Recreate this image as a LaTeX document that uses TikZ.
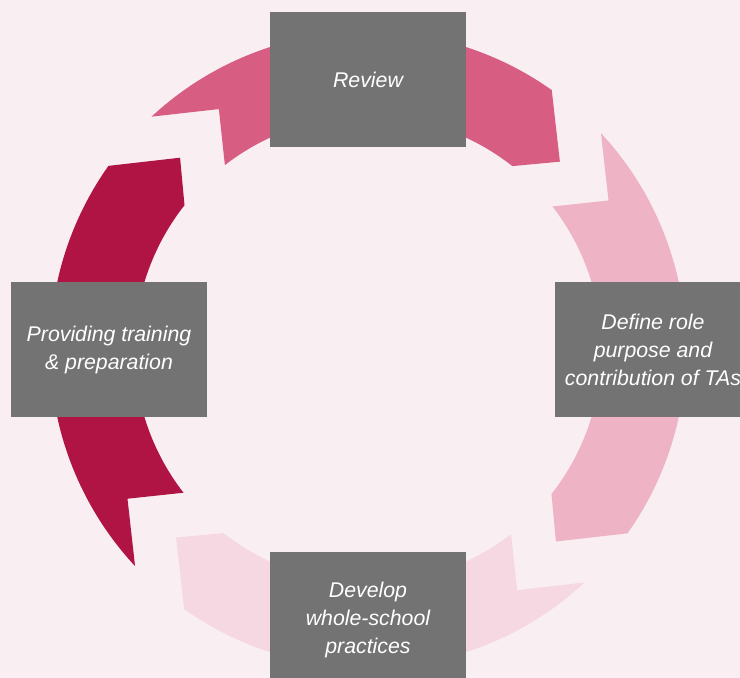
\documentclass[tikz,border=0pt]{standalone}
\usepackage{fontspec}
\setmainfont{Liberation Sans}
\definecolor{bgpink}{HTML}{F9EEF2}
\definecolor{boxgray}{HTML}{737373}
\definecolor{reviewarc}{HTML}{D85D82}
\definecolor{definearc}{HTML}{EEB4C6}
\definecolor{developarc}{HTML}{F6D8E2}
\definecolor{trainingarc}{HTML}{B01445}
\tikzset{
	stage/.style={
		fill=boxgray,
		text=white,
		minimum width=196pt,
		minimum height=135pt,
		inner sep=0pt,
		align=center,
		font=\fontsize{21.3}{28}\selectfont\itshape,
	},
	% one block of the ring, notched tail on the left, head on the right
	ringarrow/.pic={
		\path[pic actions] (132.9:318pt) -- (121.8:283pt) -- (127.8:233.5pt)
			arc[start angle=127.8, end angle=51.8, radius=233.5pt]
			-- (44.4:268.6pt) -- (54.7:318pt)
			arc[start angle=54.7, end angle=132.9, radius=318pt] -- cycle;
	},
}

\begin{document}
\begin{tikzpicture}
	\useasboundingbox (-368pt,-328.4pt) rectangle (372pt,349.6pt);
	\clip (-368pt,-328.4pt) rectangle (372pt,349.6pt);
	\fill[bgpink] (-368pt,-328.4pt) rectangle (372pt,349.6pt);

	\coordinate (hub) at (0,0);

	\pic[fill=reviewarc] 					at (hub) {ringarrow};
	\pic[fill=definearc, rotate=-90] 		at (hub) {ringarrow};
	\pic[fill=developarc, rotate=-180] 	at (hub) {ringarrow};
	\pic[fill=trainingarc, rotate=90] 		at (hub) {ringarrow};

	\node[stage] (review)   at (0,270pt)    {Review};
	\node[stage] (define)   at (285pt,0)    {Define role\\purpose and\\contribution of TAs};
	\node[stage] (develop)  at (0,-270pt)   {Develop\\whole-school\\practices};
	\node[stage] (training) at (-259pt,0)   {Providing training\\\& preparation};
\end{tikzpicture}
\end{document}
